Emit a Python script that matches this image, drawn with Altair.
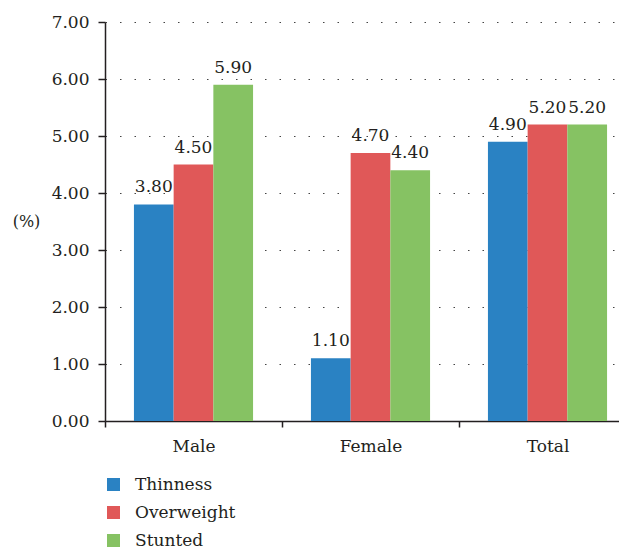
import altair as alt
import pandas as pd

groups = ["Male", "Female", "Total"]
series = ["Thinness", "Overweight", "Stunted"]
thinness = [3.80, 1.10, 4.90]
overweight = [4.50, 4.70, 5.20]
stunted = [5.90, 4.40, 5.20]
colors = ["#2A82C3", "#E05858", "#86C263"]
y_ticks = [0, 1, 2, 3, 4, 5, 6, 7]

rows = []
for i, g in enumerate(groups):
    for s, vals in zip(series, [thinness, overweight, stunted]):
        rows.append({"group": g, "series": s, "value": vals[i]})
df = pd.DataFrame(rows)

FONT = "DejaVu Serif"
TXT = "#231F20"
FS = 17

x_scale = alt.Scale(range=[0, 531], paddingInner=0, paddingOuter=0)
xo_scale = alt.Scale(paddingInner=0, paddingOuter=0.729)

x_enc = alt.X("group:N", sort=groups, title=None, scale=x_scale,
              axis=alt.Axis(labelAngle=0, tickBand="extent", tickSize=6, labelPadding=11,
                            domainColor=TXT, tickColor=TXT, domainWidth=1.5, tickWidth=1.5,
                            labelFontSize=FS, labelFont=FONT, labelColor=TXT, grid=False))
xo_enc = alt.XOffset("series:N", sort=series, scale=xo_scale)
y_enc = alt.Y("value:Q", scale=alt.Scale(domain=[0, 7], nice=False),
              axis=alt.Axis(values=y_ticks, format=".2f", title="(%)", titleAngle=0,
                            titleX=-79, titleY=199, titleAlign="center", titleBaseline="middle",
                            titleFont=FONT, titleFontSize=16, titleFontWeight="normal", titleColor=TXT,
                            tickSize=7, labelPadding=9, domainColor=TXT, tickColor=TXT,
                            domainWidth=1.5, tickWidth=1.5,
                            labelFontSize=FS, labelFont=FONT, labelColor=TXT,
                            grid=True, gridDash=[1.5, 13], gridColor="#444", gridWidth=1.2))

bars = alt.Chart(df).mark_bar().encode(
    x=x_enc, xOffset=xo_enc, y=y_enc,
    color=alt.Color("series:N", sort=series,
                    scale=alt.Scale(domain=series, range=colors),
                    legend=alt.Legend(title=None, orient="none", legendX=0, legendY=454,
                                      direction="vertical", symbolType="square", symbolSize=169,
                                      symbolStrokeWidth=0, labelFont=FONT, labelFontSize=FS,
                                      labelColor=TXT, labelOffset=13, rowPadding=10, padding=0))
)

labels = alt.Chart(df).mark_text(baseline="alphabetic", dy=-12, font=FONT, fontSize=FS, color=TXT).encode(
    x=alt.X("group:N", sort=groups, scale=x_scale),
    xOffset=alt.XOffset("series:N", sort=series, scale=xo_scale),
    y="value:Q", text=alt.Text("value:Q", format=".2f")
)

chart = alt.layer(bars, labels).properties(
    width=514, height=399,
    autosize=alt.AutoSizeParams(type="none"),
    padding={"left": 97, "top": 14, "right": 0, "bottom": 132}
).configure_view(stroke=None)

chart.save("out.html", embed_options={"renderer": "svg", "actions": False})
